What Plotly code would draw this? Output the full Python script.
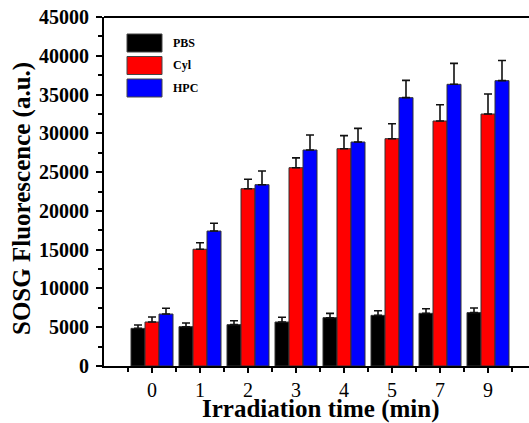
import plotly.graph_objects as go

categories = ["0", "1", "2", "3", "4", "5", "7", "9"]
pbs = [4850, 5070, 5330, 5670, 6230, 6530, 6790, 6880]
pbs_err = [440, 470, 510, 610, 560, 600, 600, 600]
cyl = [5670, 15050, 22860, 25570, 28020, 29310, 31590, 32490]
cyl_err = [650, 850, 1210, 1270, 1680, 1930, 2100, 2580]
hpc = [6700, 17400, 23380, 27850, 28880, 34600, 36320, 36790]
hpc_err = [740, 1000, 1760, 1930, 1760, 2230, 2700, 2610]
series_names = ["PBS", "Cyl", "HPC"]
colors = ["#000000", "#ff0000", "#0000ff"]
x_title = "Irradiation time (min)"
y_title = "SOSG Fluorescence (a.u.)"

xpos = list(range(len(categories)))
FONT = "Liberation Serif"
PW, PH = 432, 349  # plot area in px (runs slightly past the 529 px window, as in the reference)

fig = go.Figure()
for name, vals, errs, col in zip(series_names, [pbs, cyl, hpc], [pbs_err, cyl_err, hpc_err], colors):
    fig.add_trace(go.Bar(
        x=xpos, y=vals, name=name,
        marker=dict(color=col, line=dict(color="#333333", width=1)),
        error_y=dict(type="data", array=errs, arrayminus=[0] * len(errs), symmetric=False,
                     color="#111111", thickness=1.6, width=4),
        showlegend=False, hoverinfo="skip",
    ))

# manual legend (large swatches)
for i, (name, col) in enumerate(zip(series_names, colors)):
    y0 = 1 - (17 / PH) - i * (22.5 / PH)
    fig.add_shape(type="rect", xref="paper", yref="paper",
                  x0=(127 - 104) / PW, x1=(162 - 104) / PW,
                  y0=y0 - 18 / PH, y1=y0,
                  fillcolor=col, line=dict(color="#444444", width=1))
    fig.add_annotation(xref="paper", yref="paper", x=(171 - 104) / PW, y=y0 - 9 / PH,
                       text="<b>%s</b>" % name, showarrow=False, xanchor="left", yanchor="middle",
                       font=dict(family=FONT, size=12, color="black"))

# axis titles
fig.add_annotation(xref="paper", yref="paper", x=(320 - 104) / PW, y=-(409 - 366) / PH,
                   text="<b>%s</b>" % x_title, showarrow=False, xanchor="center", yanchor="middle",
                   font=dict(family=FONT, size=25, color="black"))
fig.add_annotation(xref="paper", yref="paper", x=-(104 - 22) / PW, y=(366 - 199) / PH,
                   text="<b>%s</b>" % y_title, showarrow=False, xanchor="center", yanchor="middle",
                   textangle=-90, font=dict(family=FONT, size=25, color="black"))

# top border line
fig.add_shape(type="line", xref="paper", yref="paper", x0=0, x1=1, y0=1, y1=1,
              line=dict(color="black", width=2), layer="above")

fig.update_layout(
    template="plotly",
    width=104 + PW, height=423,
    margin=dict(l=104, r=0, t=17, b=57, autoexpand=False),
    paper_bgcolor="white", plot_bgcolor="white",
    barmode="group", bargap=0.125, bargroupgap=0,
    font=dict(family=FONT, color="black"),
    hovermode=False,
)
fig.update_xaxes(
    range=[-1, -1 + PW / 48], tickmode="array", tickvals=xpos, ticktext=categories,
    showline=True, mirror=False, linecolor="black", linewidth=2, showgrid=False, zeroline=False,
    ticks="outside", ticklen=5, tickwidth=1.5, tickcolor="black",
    minor=dict(tickmode="linear", tick0=-0.5, dtick=1,
               ticks="outside", ticklen=4, tickwidth=1.5, tickcolor="black", showgrid=False),
    tickfont=dict(family=FONT, size=20, color="black"),
    tickprefix="<b>", ticksuffix="</b>",
)
fig.update_yaxes(
    range=[0, 45000], dtick=5000, tickformat="d",
    showline=True, mirror=False, linecolor="black", linewidth=2, showgrid=False, zeroline=False,
    ticks="outside", ticklen=6, tickwidth=1.5, tickcolor="black",
    minor=dict(dtick=2500, ticks="outside", ticklen=4, tickwidth=1.5, tickcolor="black", showgrid=False),
    tickfont=dict(family=FONT, size=20, color="black"),
    ticklabelstandoff=3,
    tickprefix="<b>", ticksuffix="</b>",
)

fig.write_html("out.html", config={"displayModeBar": False},
               post_script="document.body.style.margin='0';document.body.style.overflow='hidden';")
